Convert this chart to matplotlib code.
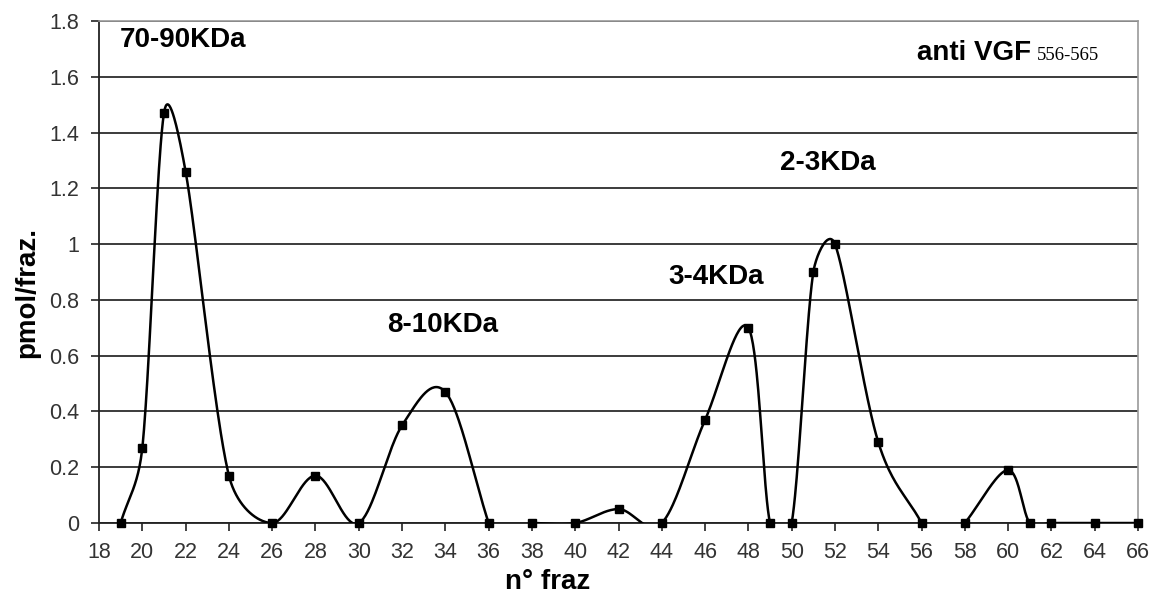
import numpy as np
import matplotlib.pyplot as plt
from matplotlib.ticker import FuncFormatter

# dati: n° frazione e pmol/fraz. (tre tratti separati)
fraz_a = [19, 20, 21, 22, 24, 26, 28, 30, 32, 34, 36]
pmol_a = [0, 0.27, 1.47, 1.26, 0.17, 0, 0.17, 0, 0.35, 0.47, 0]
fraz_b = [38, 40, 42, 44, 46, 48, 49, 50, 51, 52, 54, 56]
pmol_b = [0, 0, 0.05, 0, 0.37, 0.70, 0, 0, 0.90, 1.00, 0.29, 0]
fraz_c = [58, 60, 61, 62, 64, 66]
pmol_c = [0, 0.19, 0, 0, 0, 0]

etichette = ['70-90KDa', '2-3KDa', '3-4KDa', '8-10KDa']

plt.rcParams['font.family'] = ['Liberation Sans', 'DejaVu Sans']

# scala approssimativa in pixel (per la smussatura tipo Excel)
SX = 1039 / 48.0
SY = 502 / 1.8


def smussa(x, y, n=40):
    # curva smussata come in Excel: Bezier con tangenti limitate
    p = np.column_stack([np.array(x) * SX, np.array(y) * SY]).astype(float)
    p = np.vstack([p[0], p, p[-1]])
    out = []
    for i in range(1, len(p) - 2):
        p0, p1, p2, p3 = p[i - 1], p[i], p[i + 1], p[i + 2]
        d12 = np.hypot(*(p2 - p1))
        d02 = np.hypot(*(p2 - p0))
        d13 = np.hypot(*(p3 - p1))
        f = 1 / 3 if i == 1 else 1 / 6
        g = 1 / 3 if i == len(p) - 3 else 1 / 6
        if d02 > 0:
            f = min(f, d12 / (2 * d02))
        if d13 > 0:
            g = min(g, d12 / (2 * d13))
        c1 = p1 + (p2 - p0) * f
        c2 = p2 - (p3 - p1) * g
        t = np.linspace(0, 1, n)[:, None]
        b = ((1 - t) ** 3) * p1 + 3 * ((1 - t) ** 2) * t * c1 + 3 * (1 - t) * t ** 2 * c2 + t ** 3 * p2
        out.append(b)
    out = np.vstack(out)
    return out[:, 0] / SX, out[:, 1] / SY


fig = plt.figure(figsize=(11.61, 6.10), dpi=100)
ax = fig.add_axes([0.0853, 0.1426, 0.8949, 0.8229])

for xs, ys in [(fraz_a, pmol_a), (fraz_b, pmol_b), (fraz_c, pmol_c)]:
    sx, sy = smussa(xs, ys)
    ax.plot(sx, sy, color='black', lw=1.8, zorder=3)
    ax.plot(xs, ys, 's', color='black', ms=6, zorder=4, clip_on=False)

ax.set_xlim(18, 66)
ax.set_ylim(0, 1.8)
ax.set_xticks(np.arange(18, 67, 2))
ax.set_yticks(np.arange(0, 1.81, 0.2))
ax.yaxis.set_major_formatter(FuncFormatter(lambda v, p: '%g' % round(v, 1)))
ax.grid(axis='y', color='#1a1a1a', lw=1.2)
ax.set_axisbelow(True)
ax.tick_params(labelsize=15.5, length=6, width=1.2, color='#222222',
               labelcolor='#333333', pad=8)
for s in ['top', 'right']:
    ax.spines[s].set_color('#999999')
    ax.spines[s].set_linewidth(1.2)
for s in ['left', 'bottom']:
    ax.spines[s].set_color('#222222')
    ax.spines[s].set_linewidth(1.3)

ax.set_xlabel('n° fraz', fontsize=20, fontweight='bold', labelpad=4)
ax.xaxis.label.set_x(0.432)
ax.set_ylabel('pmol/fraz.', fontsize=20, fontweight='bold')
ax.yaxis.set_label_coords(-0.057, 0.46)

pos = [(0.020, 0.962), (0.655, 0.717), (0.548, 0.490), (0.277, 0.394)]
for t, (px, py) in zip(etichette, pos):
    ax.text(px, py, t, transform=ax.transAxes, fontsize=20, fontweight='bold',
            ha='left', va='center')
ax.text(0.787, 0.922, 'anti VGF', transform=ax.transAxes, fontsize=20,
        fontweight='bold', ha='left', va='baseline')
ax.text(0.903, 0.922, '556-565', transform=ax.transAxes, fontsize=13.5,
        family=['Liberation Serif'], ha='left', va='baseline')

fig.savefig('out.png', dpi=100)
